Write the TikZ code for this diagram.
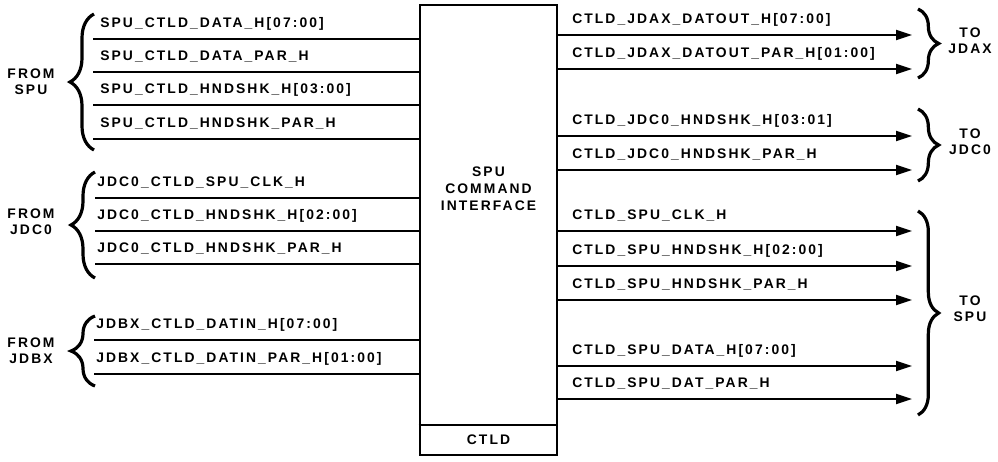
\documentclass[tikz,border=0pt]{standalone}
\usepackage{fontspec}
\setmainfont{Liberation Sans}
\newfontfamily\lblfont[LetterSpace=15]{Liberation Sans}
\usetikzlibrary{arrows.meta,decorations.pathreplacing}
\begin{document}
\begin{tikzpicture}[x=0.75pt,y=-0.75pt,
  txt/.style={font=\lblfont\bfseries\fontsize{10.4}{12}\selectfont, inner sep=0pt},
  lbl/.style={txt, anchor=base west},
  grp/.style={txt, align=center},
  sig/.style={line width=1.6pt},
  arr/.style={sig, -{Triangle[length=12pt,width=7.5pt]}},
  brc/.style={decorate, decoration={brace, amplitude=18pt}, line width=2.4pt},
  rbrc/.style={decorate, decoration={brace, amplitude=15.5pt}, line width=2.4pt},
]
\useasboundingbox (0,0) rectangle (998,461);
\fill[white] (0,0) rectangle (998,461);

% main block
\node[draw, line width=2.2pt, minimum width=102.75pt, minimum height=337.5pt, inner sep=0pt] (box) at (488.5,230) {};
\coordinate (dv) at (488.5,425);
\draw[sig] (box.west |- dv) -- (box.east |- dv);
\node[grp, font=\lblfont\bfseries\fontsize{10.4}{12.75}\selectfont] (title) at (488.5,189) {SPU\\COMMAND\\INTERFACE};
\node[grp] (ctld) at (488.5,440) {CTLD};

% inputs
\foreach \n/\xs/\xt/\y/\t in {
  a1/93/100/39/{SPU\_CTLD\_DATA\_H[07:00]},
  a2/93/100/72/{SPU\_CTLD\_DATA\_PAR\_H},
  a3/93/100/105/{SPU\_CTLD\_HNDSHK\_H[03:00]},
  a4/93/100/139/{SPU\_CTLD\_HNDSHK\_PAR\_H},
  b1/95/97/198/{JDC0\_CTLD\_SPU\_CLK\_H},
  b2/95/97/231/{JDC0\_CTLD\_HNDSHK\_H[02:00]},
  b3/95/97/264/{JDC0\_CTLD\_HNDSHK\_PAR\_H},
  c1/94/96/340/{JDBX\_CTLD\_DATIN\_H[07:00]},
  c2/94/96/374/{JDBX\_CTLD\_DATIN\_PAR\_H[01:00]}} {
  \coordinate (\n) at (\xs,\y);
  \draw[sig] (\n) -- (\n -| box.west);
  \node[lbl] (t\n) at (\xt,\y-12) {\t};
}

% outputs
\foreach \n/\y/\t in {
  d1/35/{CTLD\_JDAX\_DATOUT\_H[07:00]},
  d2/69/{CTLD\_JDAX\_DATOUT\_PAR\_H[01:00]},
  e1/136/{CTLD\_JDC0\_HNDSHK\_H[03:01]},
  e2/170/{CTLD\_JDC0\_HNDSHK\_PAR\_H},
  f1/231/{CTLD\_SPU\_CLK\_H},
  f2/266/{CTLD\_SPU\_HNDSHK\_H[02:00]},
  f3/300/{CTLD\_SPU\_HNDSHK\_PAR\_H},
  f4/366/{CTLD\_SPU\_DATA\_H[07:00]},
  f5/399/{CTLD\_SPU\_DAT\_PAR\_H}} {
  \coordinate (\n) at (912,\y);
  \draw[arr] (\n -| box.east) -- (\n);
  \node[lbl] (t\n) at (572,\y-12) {\t};
}

% left braces
\draw[brc] (94,150) -- (94,14);
\node[grp] (fspu) at (31,82) {FROM\\SPU};
\draw[brc] (95,278) -- (95,172);
\node[grp] (fjdc) at (31,222) {FROM\\JDC0};
\draw[brc] (95,386) -- (95,316);
\node[grp] (fjdbx) at (31,351) {FROM\\JDBX};

% right braces
\draw[rbrc] (918,9) -- (918,78);
\node[grp] (tjdax) at (970,41) {TO\\JDAX};
\draw[rbrc] (918,109) -- (918,181);
\node[grp] (tjdc) at (970,142) {TO\\JDC0};
\draw[rbrc] (918,211) -- (918,415);
\node[grp] (tspu) at (970,309) {TO\\SPU};
\end{tikzpicture}
\end{document}
